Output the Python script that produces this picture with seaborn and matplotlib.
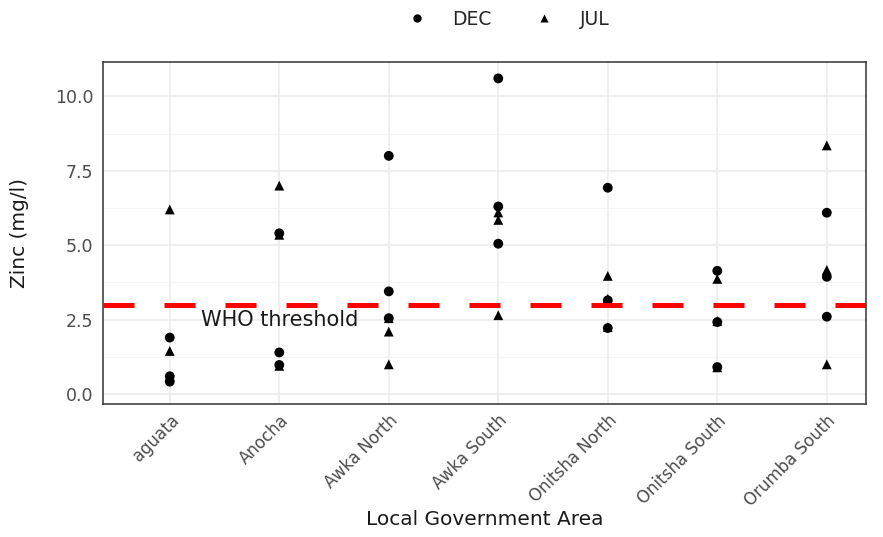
import pandas as pd
import numpy as np
import matplotlib
matplotlib.use("Agg")
import matplotlib.pyplot as plt
import seaborn as sns

# zinc readings per LGA (3 samples per month)
lgas = ['aguata', 'Anocha', 'Awka North', 'Awka South',
        'Onitsha North', 'Onitsha South', 'Orumba South']
dec_vals = [[1.9, 0.6, 0.42],
            [5.4, 1.4, 0.98],
            [8.0, 3.45, 2.55],
            [10.6, 6.3, 5.05],
            [6.93, 3.15, 2.22],
            [4.14, 2.42, 0.91],
            [6.09, 3.94, 2.6]]
jul_vals = [[6.2, 1.45, 0.6],
            [7.0, 5.35, 0.95],
            [2.55, 2.1, 1.0],
            [6.1, 5.85, 2.65],
            [3.97, 3.2, 2.25],
            [3.87, 2.45, 0.9],
            [8.35, 4.17, 1.0]]
who_threshold = 3.0

rows = []
for i, lga in enumerate(lgas):
    for v in dec_vals[i]:
        rows.append((lga, v, 'DEC'))
    for v in jul_vals[i]:
        rows.append((lga, v, 'JUL'))
df = pd.DataFrame(rows, columns=['LGA', 'Zinc', 'Month'])

sns.set_style("white")
plt.rcParams['font.family'] = ['DejaVu Sans']

fig = plt.figure(figsize=(8.83, 5.37), dpi=100)
ax = fig.add_axes([0.1166, 0.2477, 0.8644, 0.6368])

ax.set_axisbelow(True)
sns.scatterplot(data=df, x='LGA', y='Zinc', style='Month',
                markers={'DEC': 'o', 'JUL': '^'}, color='black',
                s=50, edgecolor='none', ax=ax, zorder=3)

ax.axhline(who_threshold, color='#FF0000', lw=3.6,
           linestyle=(0, (6.2, 6.0)), zorder=4)
ax.text(1, 2.5, 'WHO threshold', ha='center', va='center',
        fontsize=15, color='#1a1a1a', zorder=5)

ax.set_xlim(-0.61, 6.36)
ax.set_ylim(-0.33, 11.15)
ax.set_yticks([0, 2.5, 5.0, 7.5, 10.0])
ax.set_yticklabels(['0.0', '2.5', '5.0', '7.5', '10.0'])
ax.set_yticks([1.25, 3.75, 6.25, 8.75], minor=True)

ax.grid(True, which='major', color='#EBEBEB', lw=1.1)
ax.grid(True, which='minor', axis='y', color='#F2F2F2', lw=0.6)
for sp in ax.spines.values():
    sp.set_color('#333333')
    sp.set_linewidth(1.1)

ax.tick_params(axis='both', which='major', direction='out', length=3.5,
               width=0.9, color='#333333', labelcolor='#4D4D4D', labelsize=12.5)
ax.tick_params(axis='x', which='major', labelsize=12, pad=2)
ax.tick_params(axis='y', which='minor', length=0)
plt.setp(ax.get_xticklabels(), rotation=45, ha='right',
         rotation_mode='anchor')

ax.set_xlabel('Local Government Area', fontsize=14.5, color='#1a1a1a')
ax.set_ylabel('Zinc (mg/l)', fontsize=14.5, color='#1a1a1a')
ax.xaxis.set_label_coords(0.5, -0.31)
ax.yaxis.set_label_coords(-0.097, 0.5)

handles, labels = ax.get_legend_handles_labels()
ax.legend(handles, labels, ncol=2, frameon=False, loc='center',
          bbox_to_anchor=(0.525, 1.125), fontsize=13.5, markerscale=0.85,
          handletextpad=0.9, columnspacing=1.8)

fig.savefig('out.png', dpi=100)
